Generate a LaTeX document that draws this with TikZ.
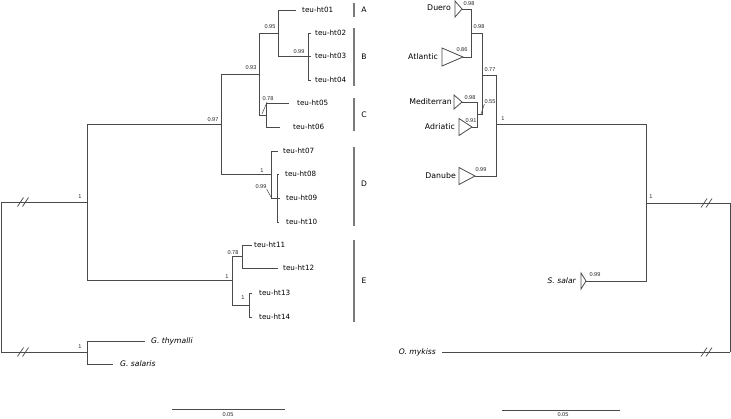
\documentclass[tikz,border=0pt]{standalone}
\usepackage{fontspec}
\setmainfont{DejaVu Sans}
\newfontfamily\supf{Liberation Sans}
\definecolor{brc}{HTML}{4A4A4A}
\definecolor{barc}{HTML}{7A7A7A}
\newcommand\cladetri[3]{\draw[br] (#1) -- ++(-#2,-#3) -- ++(0,2*#3) -- cycle;}
\newcommand\brkmark[1]{\draw[brk] (#1) ++(-5,4.5) -- ++(6,-9) ++(-1,9) -- ++(6,-9);}
\begin{document}
\begin{tikzpicture}[x=1pt,y=-1pt,
  br/.style={draw=brc, line width=0.8pt, line join=miter},
  brk/.style={draw=brc, line width=0.7pt},
  cbar/.style={draw=barc, line width=1.1pt},
  lab/.style={font=\fontsize{7.2}{8}\selectfont, inner sep=0pt, anchor=west},
  rlab/.style={font=\fontsize{7.8}{9}\selectfont, inner sep=0pt, anchor=east},
  ital/.style={font=\fontsize{7.6}{9}\selectfont\itshape, inner sep=0pt},
  sup/.style={font=\supf\fontsize{5.6}{6}\selectfont, inner sep=0pt, text=black!85},
  clab/.style={font=\fontsize{7.6}{9}\selectfont, inner sep=0pt}]
\useasboundingbox (0,0) rectangle (731,418);

% ---------------- left tree: coordinates ----------------
\coordinate (r1) at (1,202);
\coordinate (r2) at (1,352);
\coordinate (In) at (87,202);
\coordinate (G) at (87,352);
\coordinate (N97) at (221,124);
\coordinate (N93) at (259,74);
\coordinate (N95) at (278,33);
\coordinate (NB) at (308,56);
\coordinate (NC) at (266,115);
\coordinate (ND) at (271,174);
\coordinate (ND99) at (277,198);
\coordinate (NE) at (232,280);
\coordinate (NE78) at (242,256);
\coordinate (NE1) at (249,305);
\coordinate (l01) at (296,10);
\coordinate (l02) at (311,33);
\coordinate (l03) at (311,56);
\coordinate (l04) at (311,80);
\coordinate (l05) at (289,103);
\coordinate (l06) at (280,127);
\coordinate (l07) at (278,151);
\coordinate (l08) at (279,174);
\coordinate (l09) at (280,198);
\coordinate (l10) at (279,222);
\coordinate (l11) at (252,245);
\coordinate (l12) at (278,268);
\coordinate (l13) at (252,293);
\coordinate (l14) at (252,317);
\coordinate (lgt) at (145,341);
\coordinate (lgs) at (113,364);

% branches
\draw[br] (r1) -- (r2);
\draw[br] (r1) -- (In);
\draw[br] (r2) -- (G);
\draw[br] (In) |- (N97);
\draw[br] (In) |- (NE);
\draw[br] (N97) |- (N93);
\draw[br] (N97) |- (ND);
\draw[br] (N93) |- (N95);
\draw[br] (N93) |- (NC);
\draw[br] (N95) |- (l01);
\draw[br] (N95) |- (NB);
\draw[br] (NB) |- (l02);
\draw[br] (NB) -- (l03);
\draw[br] (NB) |- (l04);
\draw[br] (NC) |- (l05);
\draw[br] (NC) |- (l06);
\draw[br] (ND) |- (l07);
\draw[br] (ND) |- (ND99);
\draw[br] (ND99) |- (l08);
\draw[br] (ND99) -- (l09);
\draw[br] (ND99) |- (l10);
\draw[br] (NE) |- (NE78);
\draw[br] (NE) |- (NE1);
\draw[br] (NE78) |- (l11);
\draw[br] (NE78) |- (l12);
\draw[br] (NE1) |- (l13);
\draw[br] (NE1) |- (l14);
\draw[br] (G) |- (lgt);
\draw[br] (G) |- (lgs);

% break marks
\coordinate (bk1) at (22.5,202);
\coordinate (bk2) at (22.5,352);
\brkmark{bk1}
\brkmark{bk2}

% leaf labels
\node[lab] (t01) at (302,10) {teu-ht01};
\node[lab] (t02) at (315,33) {teu-ht02};
\node[lab] (t03) at (315,56) {teu-ht03};
\node[lab] (t04) at (315,80) {teu-ht04};
\node[lab] (t05) at (297,103) {teu-ht05};
\node[lab] (t06) at (293,127) {teu-ht06};
\node[lab] (t07) at (283,151) {teu-ht07};
\node[lab] (t08) at (285,174) {teu-ht08};
\node[lab] (t09) at (286,198) {teu-ht09};
\node[lab] (t10) at (286,222) {teu-ht10};
\node[lab] (t11) at (254,245) {teu-ht11};
\node[lab] (t12) at (283,268) {teu-ht12};
\node[lab] (t13) at (259,293) {teu-ht13};
\node[lab] (t14) at (259,317) {teu-ht14};
\node[ital, anchor=west] (tgt) at (151,341) {G. thymalli};
\node[ital, anchor=west] (tgs) at (120,364) {G. salaris};

% support values (left)
\node[sup] (s95) at (270,27) {0.95};
\node[sup] (s99b) at (299,52) {0.99};
\node[sup] (s93) at (251,68) {0.93};
\node[sup] (s97) at (213,120) {0.97};
\node[sup] (s78c) at (268,99) {0.78};
\node[sup] (s1d) at (262,171) {1};
\node[sup] (s99d) at (261,187) {0.99};
\node[sup] (s1in) at (80,197) {1};
\node[sup] (s1e) at (227,277) {1};
\node[sup] (s78e) at (233,253) {0.78};
\node[sup] (s1e2) at (243,298) {1};
\node[sup] (s1g) at (80,347) {1};
\coordinate (pc) at (262,114);
\coordinate (pd) at (271,197);
\draw[brk, line width=0.5pt] (s78c.south) ++(-1,1) -- (pc);
\draw[brk, line width=0.5pt] (s99d.south east) -- (pd);

% clade bars
\coordinate (bA1) at (354,3);   \coordinate (bA2) at (354,17);
\coordinate (bB1) at (354,28);  \coordinate (bB2) at (354,86);
\coordinate (bC1) at (354,98);  \coordinate (bC2) at (354,131);
\coordinate (bD1) at (354,147); \coordinate (bD2) at (354,226);
\coordinate (bE1) at (354,240); \coordinate (bE2) at (354,322);
\draw[cbar] (bA1) -- (bA2);
\draw[cbar] (bB1) -- (bB2);
\draw[cbar] (bC1) -- (bC2);
\draw[cbar] (bD1) -- (bD2);
\draw[cbar] (bE1) -- (bE2);
\node[clab] (cA) at (364,10) {A};
\node[clab] (cB) at (364,57) {B};
\node[clab] (cC) at (364,115) {C};
\node[clab] (cD) at (364,184) {D};
\node[clab] (cE) at (364,281) {E};

% ---------------- right tree ----------------
\coordinate (RR1) at (730,203);
\coordinate (RR2) at (730,352);
\coordinate (RN1) at (646,203);
\coordinate (RN2) at (496,124);
\coordinate (RN77) at (482,75);
\coordinate (RN98) at (471,33);
\coordinate (RN55) at (477,114.5);
\coordinate (duero) at (462,9);
\coordinate (atl) at (463,57);
\coordinate (med) at (462,102);
\coordinate (adr) at (472,127);
\coordinate (dan) at (475,176);
\coordinate (ssal) at (586,281);
\coordinate (omy) at (442,352);

\draw[br] (RR1) -- (RR2);
\draw[br] (RR1) -- (RN1);
\draw[br] (RR2) -- (omy);
\draw[br] (RN1) |- (RN2);
\draw[br] (RN1) |- (ssal);
\draw[br] (RN2) |- (RN77);
\draw[br] (RN2) |- (dan);
\draw[br] (RN77) |- (RN98);
\draw[br] (RN77) |- (RN55);
\draw[br] (RN98) |- (duero);
\draw[br] (RN98) |- (atl);
\draw[br] (RN55) |- (med);
\draw[br] (RN55) |- (adr);

\cladetri{duero}{7}{8}
\cladetri{atl}{21}{9}
\cladetri{med}{8}{7}
\cladetri{adr}{13}{8.5}
\cladetri{dan}{16}{8.5}
\cladetri{ssal}{5}{8}

\coordinate (bk3) at (706,203);
\coordinate (bk4) at (706,352);
\brkmark{bk3}
\brkmark{bk4}

\node[rlab] (tdu) at (451,8) {Duero};
\node[rlab] (tat) at (438,57) {Atlantic};
\node[rlab] (tme) at (452,102) {Mediterran};
\node[rlab] (tad) at (455,127) {Adriatic};
\node[rlab] (tda) at (456,176) {Danube};
\node[ital, anchor=east] (tss) at (576,281) {S. salar};
\node[ital, anchor=east] (tom) at (436,352) {O. mykiss};

\node[sup] (r98a) at (469,4) {0.98};
\node[sup] (r98b) at (479,27) {0.98};
\node[sup] (r86) at (462,50) {0.86};
\node[sup] (r77) at (490,70) {0.77};
\node[sup] (r98c) at (470,98) {0.98};
\node[sup] (r55) at (490,102) {0.55};
\node[sup] (r91) at (471,121) {0.91};
\node[sup] (r1a) at (503,119) {1};
\node[sup] (r99a) at (481,170) {0.99};
\node[sup] (r1b) at (651,197) {1};
\node[sup] (r99b) at (595,275) {0.99};
\coordinate (p55) at (481,114);
\draw[brk, line width=0.5pt] (r55.south west) -- (p55);

% ---------------- scale bars ----------------
\coordinate (sl1) at (172,409); \coordinate (sl2) at (285,409);
\coordinate (sr1) at (502,410); \coordinate (sr2) at (620,410);
\draw[br] (sl1) -- (sl2);
\draw[br] (sr1) -- (sr2);
\node[sup] (sc1) at (228,414.5) {0.05};
\node[sup] (sc2) at (563,415) {0.05};
\end{tikzpicture}
\end{document}
